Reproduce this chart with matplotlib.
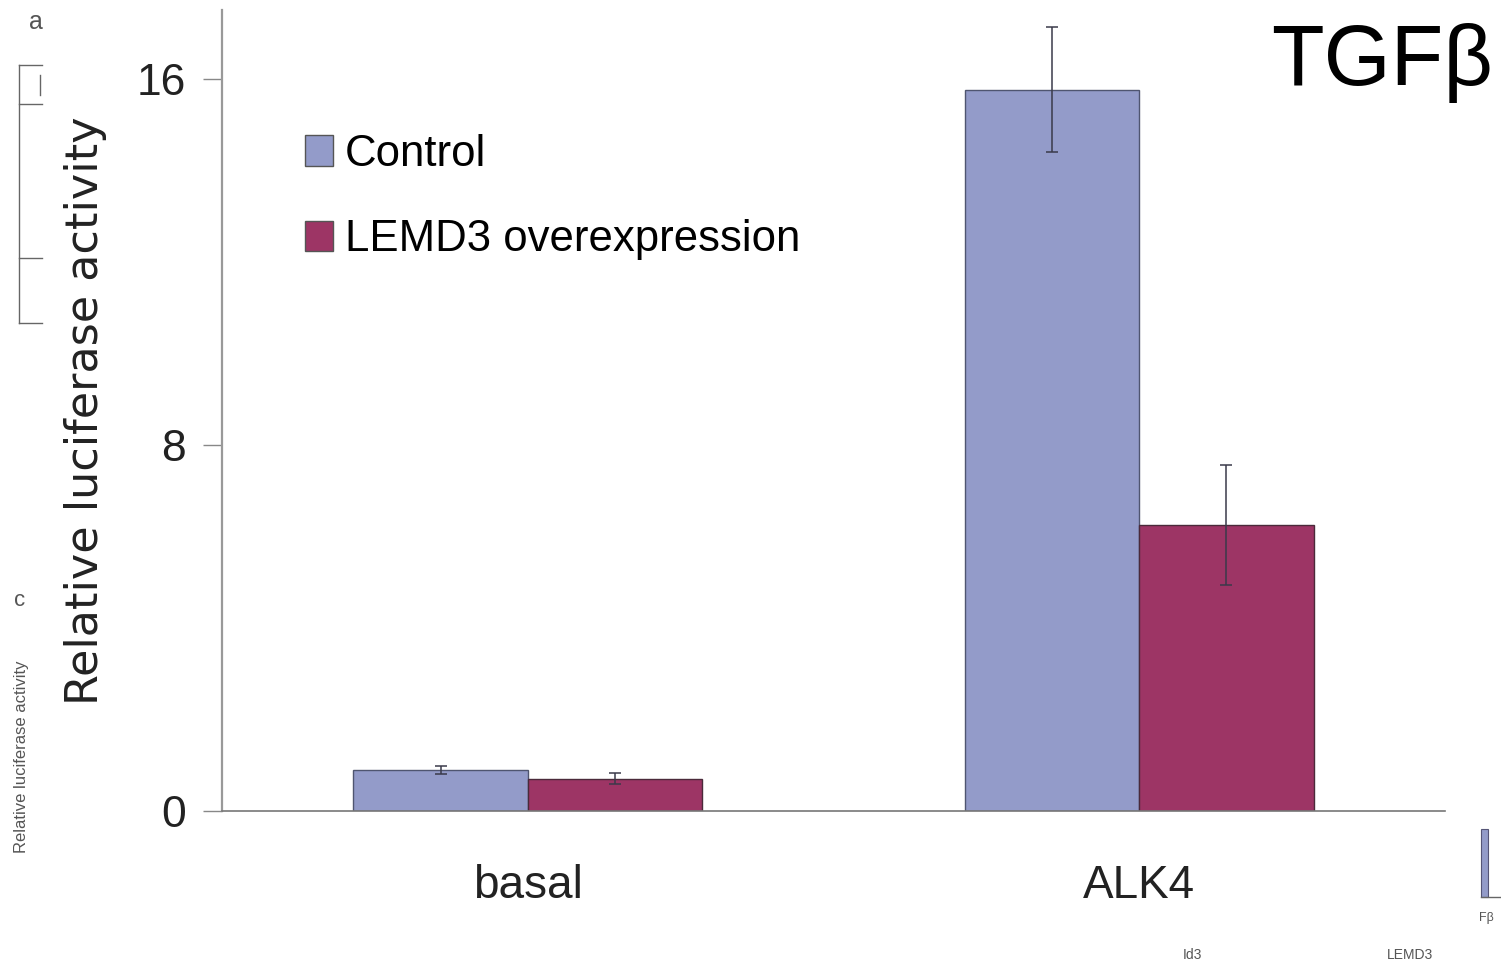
import matplotlib
matplotlib.use("Agg")
import matplotlib.pyplot as plt
from matplotlib.patches import Patch, Rectangle
from matplotlib.lines import Line2D
import numpy as np

plt.rcParams['font.family'] = ['Liberation Sans', 'DejaVu Sans']

# Data
categories = ["basal", "ALK4"]
series_names = ["Control", "LEMD3 overexpression"]
control_vals = [0.90, 15.76]
control_err = [0.09, 1.37]
lemd3_vals = [0.70, 6.25]
lemd3_err = [0.12, 1.31]
yticks = [0, 8, 16]

col_control = "#939bc9"
col_lemd3 = "#9d3565"

W, H = 1501, 966
fig = plt.figure(figsize=(W / 100, H / 100), dpi=100)
ax = fig.add_axes([222 / W, 1 - 811 / H, (1445 - 222) / W, (811 - 10) / H])

x = np.arange(len(categories))
bw = 0.285
err_kw = dict(ecolor="#3a3a4a", elinewidth=1.1, capsize=4, capthick=1.1)
ax.bar(x - bw / 2, control_vals, bw, yerr=control_err, color=col_control,
       edgecolor="#4f5570", linewidth=1.0, error_kw=err_kw, zorder=2)
ax.bar(x + bw / 2, lemd3_vals, bw, yerr=lemd3_err, color=col_lemd3,
       edgecolor="#4a2a3a", linewidth=1.0, error_kw=err_kw, zorder=2)

ax.set_xlim(-0.5, 1.5)
ax.set_ylim(0, 17.5)
ax.set_yticks(yticks)
ax.set_yticklabels([str(t) for t in yticks], fontsize=32, color="#222222")
ax.set_xticks(x)
ax.set_xticklabels(categories, fontsize=33, color="#222222")
ax.tick_params(axis="x", length=0, pad=38)
ax.tick_params(axis="y", length=14, width=1.0, color="#888888", pad=12)
for s in ["top", "right"]:
    ax.spines[s].set_visible(False)
ax.spines["left"].set_color("#999999")
ax.spines["left"].set_linewidth(1.6)
ax.spines["bottom"].set_color("#777777")
ax.spines["bottom"].set_linewidth(1.2)

ax.set_ylabel("Relative luciferase activity", fontsize=32, color="#222222",
              family="DejaVu Sans")
ax.yaxis.set_label_coords((86 - 222) / (1445 - 222), 0.5)
ax.yaxis.label.set_va("center")

handles = [Patch(facecolor=col_control, edgecolor="#555555", linewidth=1.0),
           Patch(facecolor=col_lemd3, edgecolor="#555555", linewidth=1.0)]
ax.legend(handles, series_names, loc="upper left",
          bbox_to_anchor=((287 - 222) / (1445 - 222), (811 - 116) / (811 - 10)),
          frameon=False, fontsize=31.5, handlelength=0.65, handleheight=0.7,
          handletextpad=0.28, labelspacing=1.02, borderaxespad=0)

fig.text(1493 / W, 1 - 63 / H, "TGFβ", fontsize=62, ha="right", va="center",
         color="#000000")

# Neighbouring panel fragments at the figure edges
frag = "#555555"
fig.text(36 / W, 1 - 22 / H, "a", fontsize=18, ha="center", va="center", color=frag)
fig.text(20 / W, 1 - 601 / H, "c", fontsize=16, ha="center", va="center", color=frag)
fig.text(22 / W, 1 - 757 / H, "Relative luciferase activity", fontsize=12,
         rotation=90, ha="center", va="center", color=frag)
fig.text(1192 / W, 1 - 955 / H, "Id3", fontsize=10, ha="center", va="center", color=frag)
fig.text(1410 / W, 1 - 955 / H, "LEMD3", fontsize=10, ha="center", va="center", color=frag)
fig.text(1486 / W, 1 - 918 / H, "Fβ", fontsize=9, ha="center", va="center", color=frag)
for (x0, y0, x1, y1) in [(19, 65, 42, 65), (19, 65, 19, 323), (19, 323, 42, 323),
                         (19, 104, 42, 104), (19, 258, 42, 258),
                         (40, 75, 40, 95), (1481, 897, 1501, 897)]:
    fig.add_artist(Line2D([x0 / W, x1 / W], [1 - y0 / H, 1 - y1 / H],
                          color="#666666", linewidth=1.0))
fig.add_artist(Rectangle((1481 / W, 1 - 897 / H), 7 / W, 68 / H,
                         facecolor=col_control, edgecolor="#555577", linewidth=0.8,
                         transform=fig.transFigure))

fig.savefig("out.png", dpi=100)
